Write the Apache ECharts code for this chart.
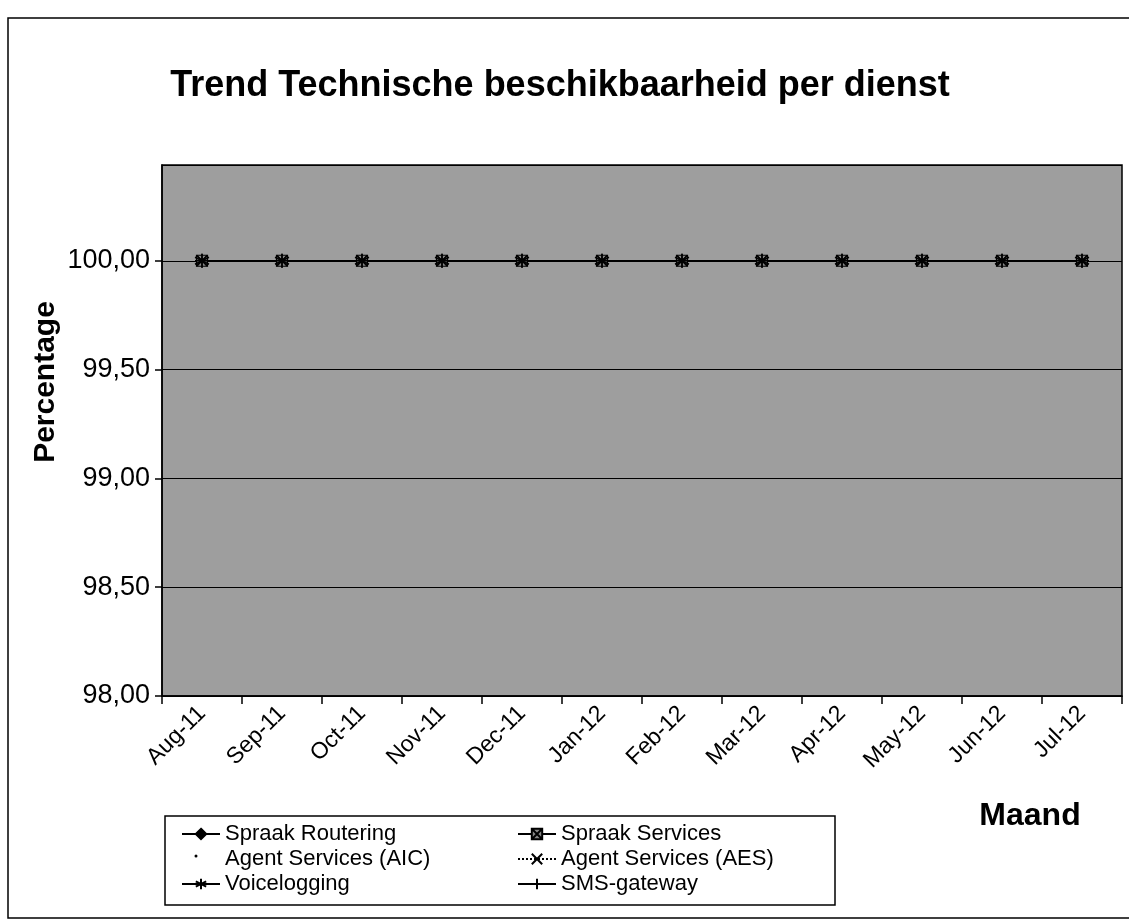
<!DOCTYPE html>
<html>
<head>
<meta charset="utf-8">
<script src="https://cdn.jsdelivr.net/npm/echarts@6/dist/echarts.min.js"></script>
<style>html,body{margin:0;padding:0;background:#fff}#c{width:1129px;height:921px}</style>
</head>
<body>
<div id="c"></div>
<script>
const categories = ['Aug-11','Sep-11','Oct-11','Nov-11','Dec-11','Jan-12','Feb-12','Mar-12','Apr-12','May-12','Jun-12','Jul-12'];
const spraakRoutering = [100,100,100,100,100,100,100,100,100,100,100,100];
const spraakServices  = [100,100,100,100,100,100,100,100,100,100,100,100];
const agentAIC        = [100,100,100,100,100,100,100,100,100,100,100,100];
const agentAES        = [100,100,100,100,100,100,100,100,100,100,100,100];
const voicelogging    = [100,100,100,100,100,100,100,100,100,100,100,100];
const smsGateway      = [100,100,100,100,100,100,100,100,100,100,100,100];
const yTicks = {min: 98, max: 100.44, interval: 0.5};

const FONT = "'Liberation Sans', Arial, sans-serif";
const asterisk = 'path://M0,-10L0,10M-8.66,-5L8.66,5M-8.66,5L8.66,-5';
const xMark = 'path://M-8,-8L8,8M-8,8L8,-8';
const plus = 'path://M0,-10L0,10M-10,0L10,0';
const boxX = 'path://M-8,-8L8,-8L8,8L-8,8Z M-8,-8L8,8M-8,8L8,-8';

function s(name, data, symbol, size, extra) {
  return Object.assign({
    name, type: 'line', data, symbol, symbolSize: size,
    lineStyle: {color: '#000', width: 1.5},
    itemStyle: {color: '#000', borderColor: '#000', borderWidth: 1.5},
    emphasis: {disabled: true},
    animation: false
  }, extra || {});
}

const legendText = {fontFamily: FONT, fontSize: 22, color: '#000'};

const chart = echarts.init(document.getElementById('c'), null, {renderer: 'canvas'});
chart.setOption({
  backgroundColor: '#fff',
  animation: false,
  textStyle: {fontFamily: FONT, color: '#000'},
  title: {
    text: 'Trend Technische beschikbaarheid per dienst',
    left: 555, top: 63, textAlign: 'center',
    textStyle: {fontFamily: FONT, fontSize: 36, fontWeight: 'bold', color: '#000'}
  },
  graphic: [
    {type: 'rect', shape: {x: 8, y: 18, width: 1125, height: 900}, style: {fill: 'none', stroke: '#000', lineWidth: 1.5}, silent: true, z: -1},
    {type: 'rect', shape: {x: 165, y: 816, width: 670, height: 89}, style: {fill: 'none', stroke: '#000', lineWidth: 1.5}, silent: true},
    {type: 'circle', shape: {cx: 196, cy: 856, r: 1.5}, style: {fill: '#000'}, silent: true},
    {type: 'text', x: 46, y: 382, rotation: Math.PI/2, style: {text: 'Percentage', fontFamily: FONT, fontSize: 30, fontWeight: 'bold', fill: '#000', align: 'center', verticalAlign: 'middle'}, silent: true},
    {type: 'text', x: 1030, y: 816, style: {text: 'Maand', fontFamily: FONT, fontSize: 32, fontWeight: 'bold', fill: '#000', align: 'center', verticalAlign: 'middle'}, silent: true}
  ],
  grid: {
    left: 162, top: 165, right: 7, bottom: 225,
    show: true, backgroundColor: '#9e9e9e', borderColor: '#000', borderWidth: 1.5,
    containLabel: false
  },
  legend: [
    {
      orient: 'vertical', left: 176, top: 818, itemGap: 3, itemWidth: 38, itemHeight: 13,
      textStyle: legendText, selectedMode: false,
      data: ['Spraak Routering', {name: 'Agent Services (AIC)', itemStyle: {opacity: 0}, lineStyle: {opacity: 0}}, 'Voicelogging']
    },
    {
      orient: 'vertical', left: 512, top: 818, itemGap: 3, itemWidth: 38, itemHeight: 13,
      textStyle: legendText, selectedMode: false,
      data: ['Spraak Services', 'Agent Services (AES)', 'SMS-gateway']
    }
  ],
  xAxis: {
    type: 'category', data: categories, boundaryGap: true,
    axisLine: {lineStyle: {color: '#000', width: 1.5}},
    axisTick: {show: true, length: 8, lineStyle: {color: '#000', width: 1.5}, interval: 0},
    axisLabel: {rotate: 45, fontSize: 23, fontFamily: FONT, color: '#000', margin: 14, interval: 0}
  },
  yAxis: {
    type: 'value', min: yTicks.min, max: yTicks.max, interval: yTicks.interval,
    axisLine: {show: true, lineStyle: {color: '#000', width: 1.5}},
    axisTick: {show: true, length: 7, lineStyle: {color: '#000', width: 1.5}},
    splitLine: {show: true, lineStyle: {color: '#000', width: 1}},
    axisLabel: {
      fontSize: 27, fontFamily: FONT, color: '#000', margin: 12, showMaxLabel: false,
      formatter: v => (Math.abs(v - yTicks.max) < 1e-9 ? '' : v.toFixed(2).replace('.', ','))
    }
  },
  series: [
    s('Spraak Routering', spraakRoutering, 'diamond', 10),
    s('Spraak Services', spraakServices, boxX, 11, {itemStyle: {color: '#888', borderColor: '#000', borderWidth: 1.2}}),
    s('Agent Services (AIC)', agentAIC, 'circle', 3, {lineStyle: {width: 0, color: '#000'}}),
    s('Agent Services (AES)', agentAES, xMark, 11, {lineStyle: {color: '#000', width: 1.2, type: 'dotted'}}),
    s('SMS-gateway', smsGateway, plus, 14),
    s('Voicelogging', voicelogging, asterisk, 14)
  ]
});
</script>
</body>
</html>
